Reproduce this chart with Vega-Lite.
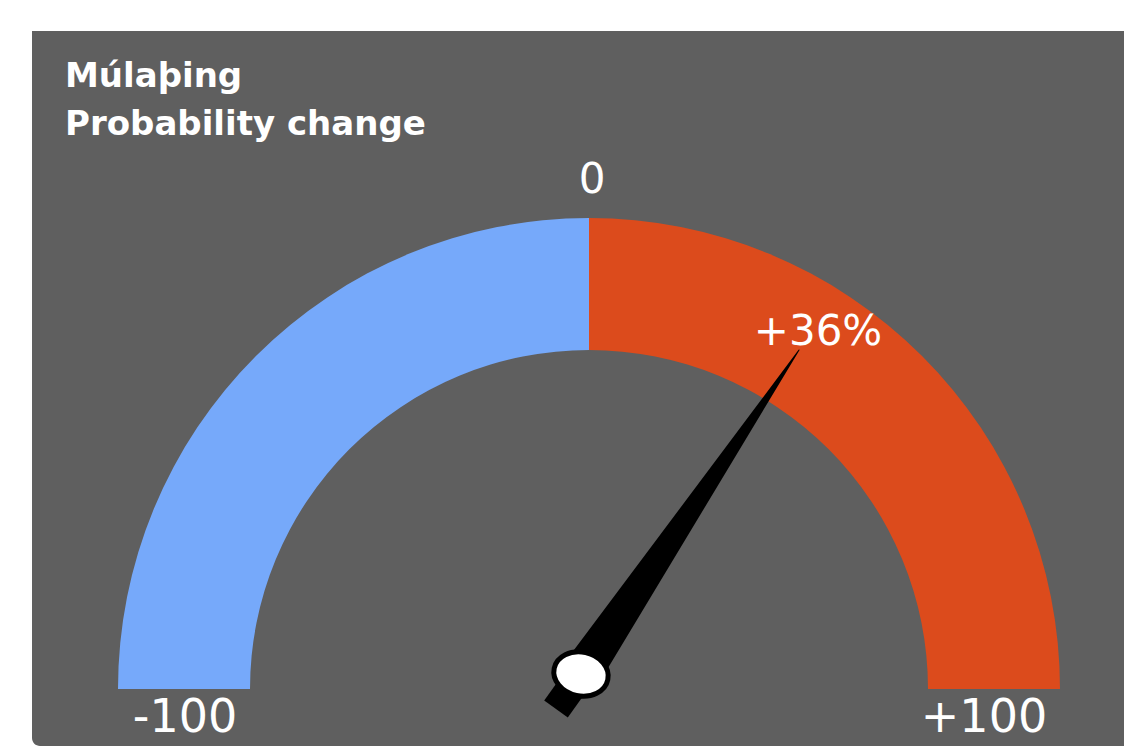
{
  "$schema": "https://vega.github.io/schema/vega-lite/v6.json",
  "width": 1124,
  "height": 746,
  "autosize": {"type": "none"},
  "padding": 0,
  "background": "white",
  "config": {"view": {"stroke": null}},
  "datasets": {
    "panel": [{"x": -557, "x2": 535, "y": 658, "y2": -57}],
    "arcs": [
      {"segment": "negative", "from": -100, "to": 0, "x": 0, "y": 0},
      {"segment": "positive", "from": 0, "to": 100, "x": 0, "y": 0}
    ],
    "tail": [
      {"x": -33, "y": -20, "o": 1},
      {"x": -8, "y": 15, "o": 2}
    ],
    "needle": [
      {"x": -8, "y": 15, "w": 40, "o": 1},
      {"x": 210, "y": 339, "w": 1, "o": 2}
    ],
    "pivot": [{"x": -8, "y": 15}],
    "title": [
      {"x": -524, "y": 602, "text": "Múlaþing"},
      {"x": -524, "y": 554, "text": "Probability change"}
    ],
    "ends": [
      {"x": -404, "y": -43, "text": "-100"},
      {"x": 395, "y": -43, "text": "+100"}
    ],
    "zero": [{"x": 3, "y": 496, "text": "0"}],
    "value": [{"x": 229, "y": 344, "text": "+36%"}]
  },
  "layer": [
    {
      "data": {"name": "panel"},
      "mark": {"type": "rect", "color": "#5f5f5f", "cornerRadiusBottomLeft": 8},
      "encoding": {
        "x": {"field": "x", "type": "quantitative", "scale": {"domain": [-589, 535], "nice": false, "zero": false}, "axis": null},
        "x2": {"field": "x2"},
        "y": {"field": "y", "type": "quantitative", "scale": {"domain": [-57, 689], "nice": false, "zero": false}, "axis": null},
        "y2": {"field": "y2"}
      }
    },
    {
      "data": {"name": "arcs"},
      "mark": {"type": "arc", "radius": 471, "radius2": 339},
      "encoding": {
        "x": {"field": "x", "type": "quantitative"},
        "y": {"field": "y", "type": "quantitative"},
        "theta": {"field": "from", "type": "quantitative", "scale": {"domain": [-100, 100], "range": [-1.5707963, 1.5707963], "zero": false, "nice": false}},
        "theta2": {"field": "to"},
        "color": {"field": "segment", "type": "nominal", "scale": {"domain": ["negative", "positive"], "range": ["#76a9fa", "#dc4b1c"]}, "legend": null}
      }
    },
    {
      "data": {"name": "tail"},
      "mark": {"type": "line", "color": "black", "strokeWidth": 29, "strokeCap": "butt"},
      "encoding": {
        "x": {"field": "x", "type": "quantitative"},
        "y": {"field": "y", "type": "quantitative"},
        "order": {"field": "o", "type": "quantitative"}
      }
    },
    {
      "data": {"name": "needle"},
      "mark": {"type": "trail", "color": "black"},
      "encoding": {
        "x": {"field": "x", "type": "quantitative"},
        "y": {"field": "y", "type": "quantitative"},
        "size": {"field": "w", "type": "quantitative", "scale": null, "legend": null},
        "order": {"field": "o", "type": "quantitative"}
      }
    },
    {
      "data": {"name": "pivot"},
      "mark": {"type": "point", "filled": true, "fill": "white", "stroke": "black", "strokeWidth": 5, "opacity": 1, "fillOpacity": 1, "size": 3000, "angle": 12, "shape": "M -1 0 A 1 0.8 0 1 0 1 0 A 1 0.8 0 1 0 -1 0 Z"},
      "encoding": {
        "x": {"field": "x", "type": "quantitative"},
        "y": {"field": "y", "type": "quantitative"}
      }
    },
    {
      "data": {"name": "title"},
      "mark": {"type": "text", "align": "left", "baseline": "alphabetic", "font": "DejaVu Sans", "fontWeight": "bold", "fontSize": 34, "color": "white"},
      "encoding": {
        "x": {"field": "x", "type": "quantitative"},
        "y": {"field": "y", "type": "quantitative"},
        "text": {"field": "text"}
      }
    },
    {
      "data": {"name": "ends"},
      "mark": {"type": "text", "align": "center", "baseline": "alphabetic", "font": "DejaVu Sans", "fontSize": 46, "color": "white"},
      "encoding": {
        "x": {"field": "x", "type": "quantitative"},
        "y": {"field": "y", "type": "quantitative"},
        "text": {"field": "text"}
      }
    },
    {
      "data": {"name": "zero"},
      "mark": {"type": "text", "align": "center", "baseline": "alphabetic", "font": "DejaVu Sans", "fontSize": 42, "color": "white"},
      "encoding": {
        "x": {"field": "x", "type": "quantitative"},
        "y": {"field": "y", "type": "quantitative"},
        "text": {"field": "text"}
      }
    },
    {
      "data": {"name": "value"},
      "mark": {"type": "text", "align": "center", "baseline": "alphabetic", "font": "DejaVu Sans", "fontSize": 42, "color": "white"},
      "encoding": {
        "x": {"field": "x", "type": "quantitative"},
        "y": {"field": "y", "type": "quantitative"},
        "text": {"field": "text"}
      }
    }
  ]
}
